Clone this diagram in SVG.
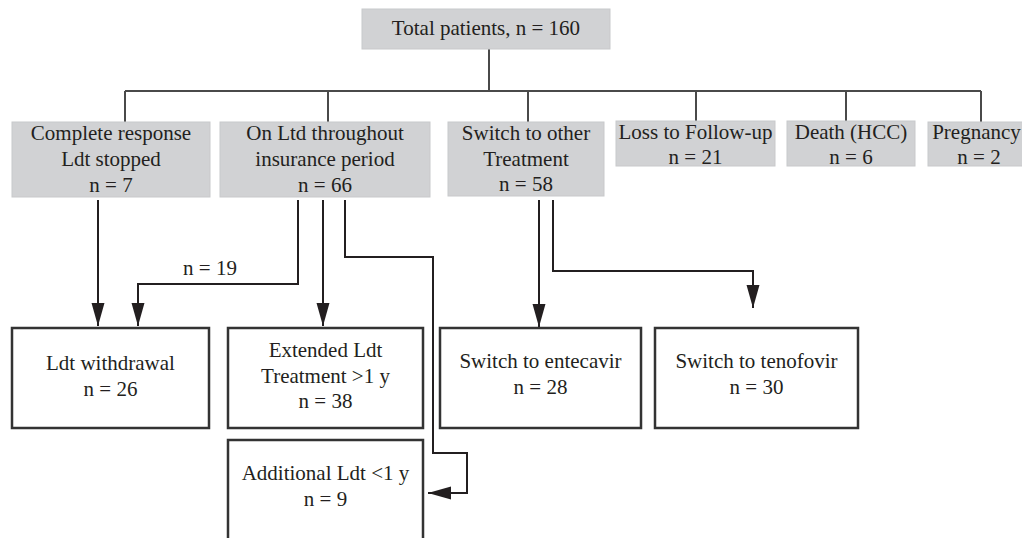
<svg xmlns="http://www.w3.org/2000/svg" width="1022" height="538" viewBox="0 0 1022 538">
<defs>
<style>
.g{fill:#d1d2d4;stroke:#c8c9cb;stroke-width:1}
.w{fill:#ffffff;stroke:#333333;stroke-width:2.5}
.t{font-family:"Liberation Serif","Times New Roman",serif;font-size:21px;fill:#231f20;text-anchor:middle}
.tree{fill:none;stroke:#4a4a4a;stroke-width:2}
.c{fill:none;stroke:#231f20;stroke-width:2}
</style>
<marker id="ah" markerUnits="userSpaceOnUse" markerWidth="26" markerHeight="14" refX="23" refY="6.5" orient="auto">
<path d="M0,0 L23,6.5 L0,13 Z" fill="#231f20"/>
</marker>
</defs>
<rect width="1022" height="538" fill="#ffffff"/>
<g id="connectors">
<path class="tree" d="M489,49 V91 M125,91 H981 M125,91 V122 M328,91 V122 M528,91 V122 M696,91 V122 M846,91 V122 M981,91 V123"/>
<path class="c" d="M98,200 V326" marker-end="url(#ah)"/>
<path class="c" d="M298,200 V284 H138 V326" marker-end="url(#ah)"/>
<path class="c" d="M323,200 V326" marker-end="url(#ah)"/>
<path class="c" d="M345,200 V257 H433 V453 H467 V493 H428" marker-end="url(#ah)"/>
<path class="c" d="M539,200 V327" marker-end="url(#ah)"/>
<path class="c" d="M553,200 V271 H753 V308" marker-end="url(#ah)"/>
<text class="t" x="210" y="275">n = 19</text>
</g>
<g id="total">
<rect class="g" x="362" y="9" width="248" height="40"/>
<text class="t" x="486" y="35">Total patients, n = 160</text>
</g>
<g id="complete">
<rect class="g" x="12" y="122" width="198" height="75"/>
<text class="t" x="111" y="140">Complete response</text>
<text class="t" x="111" y="166">Ldt stopped</text>
<text class="t" x="111" y="192">n = 7</text>
</g>
<g id="onltd">
<rect class="g" x="220" y="122" width="210" height="75"/>
<text class="t" x="325" y="140">On Ltd throughout</text>
<text class="t" x="325" y="166">insurance period</text>
<text class="t" x="325" y="192">n = 66</text>
</g>
<g id="switch">
<rect class="g" x="448" y="122" width="156" height="74"/>
<text class="t" x="526" y="140">Switch to other</text>
<text class="t" x="526" y="166">Treatment</text>
<text class="t" x="526" y="191">n = 58</text>
</g>
<g id="loss">
<rect class="g" x="616" y="121" width="159" height="45"/>
<text class="t" x="695.5" y="139">Loss to Follow-up</text>
<text class="t" x="695.5" y="164">n = 21</text>
</g>
<g id="death">
<rect class="g" x="787" y="121" width="128" height="45"/>
<text class="t" x="851" y="139">Death (HCC)</text>
<text class="t" x="851" y="164">n = 6</text>
</g>
<g id="pregnancy">
<rect class="g" x="928" y="122" width="110" height="44"/>
<text class="t" x="976.5" y="139">Pregnancy</text>
<text class="t" x="979" y="164">n = 2</text>
</g>
<g id="withdrawal">
<rect class="w" x="12" y="328" width="197" height="100"/>
<text class="t" x="110.5" y="370">Ldt withdrawal</text>
<text class="t" x="110.5" y="396">n = 26</text>
</g>
<g id="extended">
<rect class="w" x="228" y="328" width="195" height="100"/>
<text class="t" x="325.5" y="357">Extended Ldt</text>
<text class="t" x="325.5" y="383">Treatment &gt;1 y</text>
<text class="t" x="325.5" y="408">n = 38</text>
</g>
<g id="additional">
<rect class="w" x="228" y="440" width="195" height="110"/>
<text class="t" x="325.5" y="480">Additional Ldt &lt;1 y</text>
<text class="t" x="325.5" y="506">n = 9</text>
</g>
<g id="entecavir">
<rect class="w" x="440" y="328" width="201" height="100"/>
<text class="t" x="540.5" y="368">Switch to entecavir</text>
<text class="t" x="540.5" y="394">n = 28</text>
</g>
<g id="tenofovir">
<rect class="w" x="655" y="328" width="203" height="100"/>
<text class="t" x="756.5" y="368">Switch to tenofovir</text>
<text class="t" x="756.5" y="394">n = 30</text>
</g>
</svg>
